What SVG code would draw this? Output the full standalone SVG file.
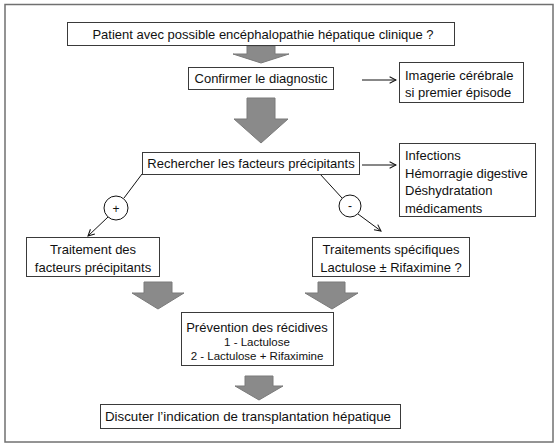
<svg xmlns="http://www.w3.org/2000/svg" width="560" height="446" viewBox="0 0 560 446">
<defs>
<style>
.box{fill:#fff;stroke:#3a3a3a;stroke-width:1}
.t{font-family:"Liberation Sans",Arial,sans-serif;font-size:13px;fill:#111}
.c{text-anchor:middle}
.s{font-size:11.5px}
.big{fill:#8a8a8a;stroke:#7a7a7a;stroke-width:1}
.ln{stroke:#111;stroke-width:1;fill:none}
</style>
<marker id="ah" viewBox="0 0 10 10" refX="9" refY="5" markerWidth="8" markerHeight="8" markerUnits="userSpaceOnUse" orient="auto">
<path d="M1,1 L9,5 L1,9" fill="none" stroke="#111" stroke-width="1.3"/>
</marker>
</defs>
<rect x="0" y="0" width="560" height="446" fill="#fff"/>
<rect x="5" y="4.5" width="548" height="437.5" fill="none" stroke="#707070" stroke-width="1.5"/>

<g id="connectors">
<polygon class="big" points="247,46 275,46 275,54 289,54 261,63 233,54 247,54"/>
<polygon class="big" points="247,98 275,98 275,119 288,119 261,143 234,119 247,119"/>
<polygon class="big" points="144,282 172,282 172,293 184,293 158,309 132,293 144,293"/>
<polygon class="big" points="318,282 345,282 345,293 358,293 332,309 305,293 318,293"/>
<polygon class="big" points="245,376 273,376 273,386 283,386 259,400 235,386 245,386"/>
<line class="ln" x1="362" y1="80" x2="396" y2="80" marker-end="url(#ah)"/>
<line class="ln" x1="362" y1="165" x2="396" y2="165" marker-end="url(#ah)"/>
<line class="ln" x1="142" y1="174" x2="124" y2="198"/>
<line class="ln" x1="108" y1="217" x2="88" y2="236" marker-end="url(#ah)"/>
<line class="ln" x1="320" y1="174" x2="342" y2="198"/>
<line class="ln" x1="358" y1="214" x2="381" y2="231" marker-end="url(#ah)"/>
</g>

<g id="n1"><rect class="box" x="67.5" y="22.5" width="387" height="23"/>
<text class="t c" x="263" y="38.5">Patient avec possible encéphalopathie hépatique clinique ?</text></g>

<g id="n2"><rect class="box" x="188.5" y="67.5" width="145" height="22"/>
<text class="t c" x="261" y="83">Confirmer le diagnostic</text></g>

<g id="n3"><rect class="box" x="399.5" y="62.5" width="124" height="40"/>
<text class="t" x="405" y="80">Imagerie cérébrale</text>
<text class="t" x="405" y="97">si premier épisode</text></g>

<g id="n4"><rect class="box" x="142.5" y="152.5" width="217" height="22"/>
<text class="t c" x="251" y="168">Rechercher les facteurs précipitants</text></g>

<g id="n5"><rect class="box" x="399.5" y="143.5" width="136" height="73"/>
<text class="t" x="405" y="160">Infections</text>
<text class="t" x="405" y="177.5">Hémorragie digestive</text>
<text class="t" x="405" y="195">Déshydratation</text>
<text class="t" x="405" y="212.5">médicaments</text></g>

<g id="plus"><circle cx="116" cy="208" r="12" fill="#fff" stroke="#111" stroke-width="1"/>
<text class="t c" x="116" y="212.5" style="font-size:12px">+</text></g>

<g id="minus"><circle cx="350" cy="206" r="11" fill="#fff" stroke="#111" stroke-width="1"/>
<text class="t c" x="350" y="210" style="font-size:12px">-</text></g>

<g id="n6"><rect class="box" x="26.5" y="237.5" width="133" height="39"/>
<text class="t c" x="93" y="254">Traitement des</text>
<text class="t c" x="93" y="272">facteurs précipitants</text></g>

<g id="n7"><rect class="box" x="312.5" y="237.5" width="157" height="39"/>
<text class="t c" x="391" y="254">Traitements spécifiques</text>
<text class="t c" x="391" y="272">Lactulose ± Rifaximine ?</text></g>

<g id="n8"><rect class="box" x="181.5" y="312.5" width="152" height="53"/>
<text class="t c" x="257" y="332">Prévention des récidives</text>
<text class="t c s" x="257" y="346">1 - Lactulose</text>
<text class="t c s" x="257" y="360">2 - Lactulose + Rifaximine</text></g>

<g id="n9"><rect class="box" x="100.5" y="404.5" width="300" height="24"/>
<text class="t c" x="248" y="421" style="font-size:13.3px">Discuter l’indication de transplantation hépatique</text></g>
</svg>
